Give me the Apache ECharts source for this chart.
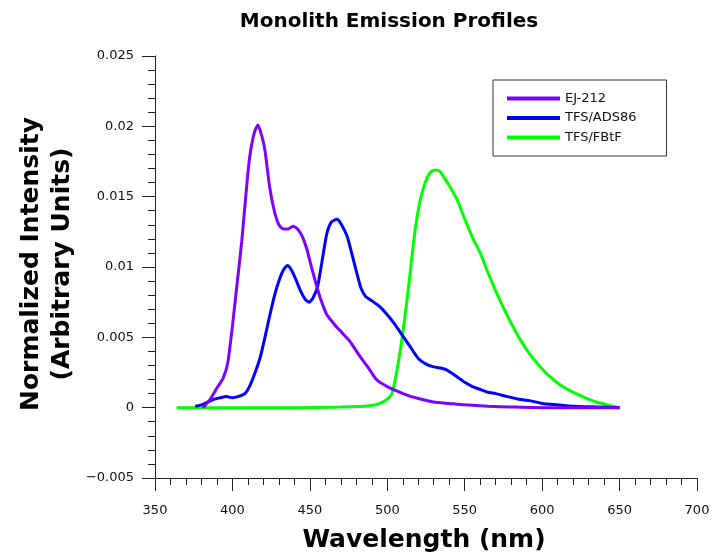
<!DOCTYPE html>
<html>
<head>
<meta charset="utf-8">
<script src="https://cdn.jsdelivr.net/npm/echarts@6/dist/echarts.min.js"></script>
<style>
  html, body { margin: 0; padding: 0; background: #fff; }
  #chart { width: 713px; height: 558px; }
</style>
</head>
<body>
<div id="chart"></div>
<script>
// 数据：波长 (nm) 与归一化强度
var ej212Wl = [381, 385, 390, 394, 397, 400, 403, 406, 409, 411, 414, 416.5, 419, 421, 424, 427, 430, 433, 436, 439, 442, 445, 448, 451, 454, 457, 461, 466, 471, 476, 482, 488, 493, 500, 508, 515, 522, 530, 540, 550, 565, 580, 600, 620, 650];
var ej212Val = [0, 0.0005, 0.0014, 0.0021, 0.0032, 0.0058, 0.0088, 0.0118, 0.0155, 0.0177, 0.0195, 0.0201, 0.0193, 0.0183, 0.0157, 0.0140, 0.0130, 0.0127, 0.0127, 0.0129, 0.0127, 0.0122, 0.0113, 0.0100, 0.0088, 0.0077, 0.0066, 0.0059, 0.0053, 0.0047, 0.0037, 0.0028, 0.0020, 0.0015, 0.0011, 0.0008, 0.0006, 0.0004, 0.0003, 0.0002, 0.0001, 0.00005, 0, 0, 0];

var adsWl = [376, 380, 384, 388, 392, 396, 400, 404, 408, 411, 414, 418, 421, 424, 427, 430, 433, 435.5, 438, 441, 444, 447, 449.5, 452, 455, 458, 461, 464, 467.5, 470, 474, 477, 480, 483, 486, 490, 495, 500, 505, 510, 515, 520, 525, 530, 535, 538, 541, 545, 550, 555, 560, 565, 570, 577, 585, 592, 600, 610, 620, 635, 650];
var adsVal = [0.0001, 0.0002, 0.0004, 0.0006, 0.0007, 0.0008, 0.0007, 0.0008, 0.0010, 0.0015, 0.0023, 0.0036, 0.0050, 0.0065, 0.0079, 0.0090, 0.0098, 0.0101, 0.0098, 0.0091, 0.0083, 0.0077, 0.0075, 0.0078, 0.0086, 0.0105, 0.0124, 0.0132, 0.0134, 0.0131, 0.0122, 0.0110, 0.0097, 0.0085, 0.0079, 0.0076, 0.0072, 0.0066, 0.0059, 0.0051, 0.0043, 0.0035, 0.0031, 0.0029, 0.0028, 0.0027, 0.0025, 0.0022, 0.0018, 0.0015, 0.0013, 0.0011, 0.0010, 0.0008, 0.0006, 0.0005, 0.0003, 0.0002, 0.0001, 0.00005, 0];

var fbtfWl = [364, 400, 440, 470, 485, 492, 497, 500, 503, 506, 509, 512, 514.5, 517, 519, 521, 523.5, 526, 528.5, 531, 534, 537, 540, 545, 549, 555, 560, 565, 570, 575, 581, 586, 592, 598, 605, 612, 620, 628, 635, 642, 650];
var fbtfVal = [0, 0, 0, 0.00005, 0.0001, 0.0002, 0.0004, 0.0006, 0.0010, 0.0025, 0.0045, 0.0070, 0.0093, 0.0118, 0.0134, 0.0146, 0.0157, 0.0164, 0.0168, 0.0169, 0.0168, 0.0163, 0.0158, 0.0148, 0.0137, 0.0121, 0.0110, 0.0096, 0.0083, 0.0071, 0.0058, 0.0048, 0.0038, 0.0030, 0.0022, 0.0016, 0.0011, 0.0007, 0.0004, 0.0002, 0];

var seriesNames = ['EJ-212', 'TFS/ADS86', 'TFS/FBtF'];
var seriesColors = ['#8000ff', '#0000ff', '#00ff00'];

function pairs(xs, ys) {
  var out = [];
  for (var i = 0; i < xs.length; i++) out.push([xs[i], ys[i]]);
  return out;
}

var seriesData = [pairs(ej212Wl, ej212Val), pairs(adsWl, adsVal), pairs(fbtfWl, fbtfVal)];

var boldFont = 'DejaVu Sans';
var tickFont = 'DejaVu Sans';

var chart = echarts.init(document.getElementById('chart'));

var option = {
  animation: false,
  backgroundColor: '#fff',
  color: seriesColors,
  grid: { left: 155, right: 16, top: 56, bottom: 80, containLabel: false },
  legend: {
    orient: 'vertical',
    left: 493,
    top: 80,
    data: seriesNames,
    icon: 'rect',
    itemWidth: 53,
    itemHeight: 4,
    itemGap: 6.5,
    itemTextGap: 10,
    padding: [12, 30, 12, 14],
    borderColor: '#333',
    borderWidth: 1,
    textStyle: { fontFamily: tickFont, fontSize: 13, color: '#111' }
  },
  xAxis: {
    type: 'value',
    min: 350, max: 700, interval: 50,
    axisLine: { show: true, onZero: false, lineStyle: { color: '#222', width: 1 } },
    axisTick: { show: true, inside: false, length: 13, lineStyle: { color: '#222' } },
    minorTick: { show: true, splitNumber: 5, length: 7, lineStyle: { color: '#222' } },
    splitLine: { show: false },
    axisLabel: { margin: 26, fontFamily: tickFont, fontSize: 13, color: '#111' }
  },
  yAxis: {
    type: 'value',
    min: -0.005, max: 0.025, interval: 0.005,
    axisLine: { show: true, onZero: false, lineStyle: { color: '#222', width: 1 } },
    axisTick: { show: true, inside: false, length: 13, lineStyle: { color: '#222' } },
    minorTick: { show: true, splitNumber: 5, length: 7, lineStyle: { color: '#222' } },
    splitLine: { show: false },
    axisLabel: {
      margin: 21, fontFamily: tickFont, fontSize: 13, color: '#111',
      formatter: function (v) {
        var s = String(Math.round(v * 1000) / 1000);
        return s.replace('-', '\u2212');
      }
    }
  },
  graphic: [
    {
      type: 'text', x: 389, y: 22,
      style: { text: 'Monolith Emission Profiles', fontFamily: boldFont, fontWeight: 'bold', fontSize: 20, fill: '#000', textAlign: 'center', textVerticalAlign: 'middle' }
    },
    {
      type: 'text', x: 424, y: 540,
      style: { text: 'Wavelength (nm)', fontFamily: boldFont, fontWeight: 'bold', fontSize: 25, fill: '#000', textAlign: 'center', textVerticalAlign: 'middle' }
    },
    {
      type: 'text', x: 31, y: 264, rotation: Math.PI / 2,
      style: { text: 'Normalized Intensity', fontFamily: boldFont, fontWeight: 'bold', fontSize: 25, fill: '#000', textAlign: 'center', textVerticalAlign: 'middle' }
    },
    {
      type: 'text', x: 62, y: 264, rotation: Math.PI / 2,
      style: { text: '(Arbitrary Units)', fontFamily: boldFont, fontWeight: 'bold', fontSize: 25, fill: '#000', textAlign: 'center', textVerticalAlign: 'middle' }
    }
  ],
  series: []
};

for (var i = 0; i < seriesNames.length; i++) {
  option.series.push({
    name: seriesNames[i],
    type: 'line',
    data: seriesData[i],
    showSymbol: false,
    symbol: 'none',
    smooth: 0.2,
    lineStyle: { width: 3, color: seriesColors[i] },
    z: 3 - i
  });
}

chart.setOption(option);
</script>
</body>
</html>
